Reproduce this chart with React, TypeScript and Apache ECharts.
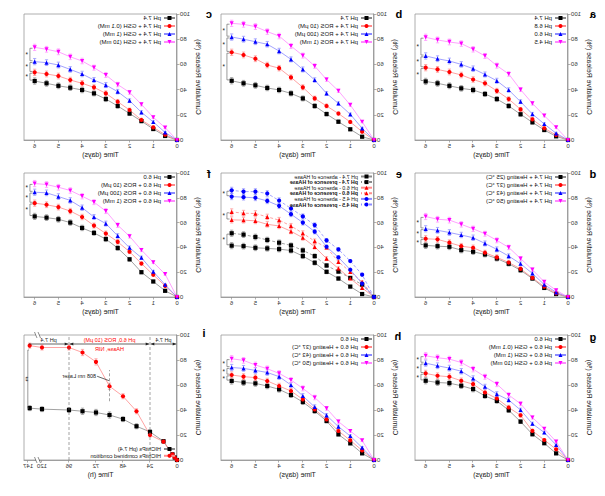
import React, { useEffect, useRef } from "react";
import * as echarts from "echarts";

// ---------- data ----------
const DAYS = [0, 0.5, 1, 1.5, 2, 2.5, 3, 3.5, 4, 4.5, 5, 5.5, 6];
const DAY_TICKS = [0, 1, 2, 3, 4, 5, 6];
const ERR = [0, 0.8, 1.0, 1.3, 1.5, 1.8, 2.0, 2.0, 2.2, 2.2, 2.3, 2.3, 2.5];

const A_LABELS = ["pH 7.4", "pH 6.8", "pH 6.0", "pH 4.5"];
const A_74 = [0, 2.9, 7.9, 14, 20.4, 27, 32.5, 36.5, 39.7, 41, 43, 45, 46.5];
const A_68 = [0, 4, 9.3, 16.4, 24.3, 32.5, 39, 45, 48, 51.6, 54, 56, 57.4];
const A_60 = [0, 5.3, 12.7, 20.6, 30.4, 39.7, 47, 52, 56.6, 60, 62.7, 64.5, 66.7];
const A_45 = [0, 10, 19.3, 29, 40, 52.4, 59, 66.7, 72, 76.5, 77.8, 79.4, 81.5];

const B_LABELS = ["pH 7.4", "pH 7.4 + ROS (10 μM)", "pH 7.4 + ROS (100 μM)", "pH 7.4 + ROS (1 mM)"];
const B_74 = [0, 2.6, 8.5, 14.5, 20.6, 27, 33, 37, 39.7, 41.3, 43.4, 45, 47];
const B_10U = [0, 6.6, 14.3, 21, 27, 33, 41.8, 49.7, 57, 59.5, 64.5, 67.5, 69.6];
const B_100U = [0, 9.3, 20.4, 29, 37, 47.6, 56, 64, 70.6, 76, 78, 80, 81.7];
const B_1M = [0, 14.5, 27.8, 39, 48, 58.7, 67, 74.6, 82.5, 86, 90, 91.8, 92.6];

const C_LABELS = ["pH 7.4", "pH 7.4 + GSH (0.1 mM)", "pH 7.4 + GSH (1 mM)", "pH 7.4 + GSH (10 mM)"];
const C_74 = [0, 3.2, 8.7, 15, 21, 27, 32.5, 37, 39.7, 41.5, 43, 45, 46.8];
const C_01 = [0, 4.2, 10, 15.9, 23.8, 30.4, 37, 41.8, 45, 47.6, 50.8, 52.4, 53.7];
const C_1 = [0, 6, 14.3, 22, 31.2, 38.4, 43.6, 47.6, 52.4, 56, 59.5, 61.4, 62.2];
const C_10 = [0, 9.8, 18, 28.3, 37.8, 44, 51.6, 57.4, 62.7, 66, 70, 72, 73.5];

const D_LABELS = ["pH 7.4 + Heating (25 °C)", "pH 7.4 + Heating (37 °C)", "pH 7.4 + Heating (43 °C)", "pH 7.4 + Heating (50 °C)"];
const D_25 = [0, 2.4, 7.3, 14.9, 21.6, 26.8, 31, 34.3, 36.5, 37.8, 40.5, 41, 41.6];
const D_37 = [0, 3, 8.4, 15.4, 22.7, 27.8, 32, 35.7, 39.7, 41, 43.8, 46.5, 47];
const D_43 = [0, 3.8, 10, 19, 26.8, 33, 38.4, 43.2, 47.8, 50, 52, 53.8, 55];
const D_50 = [0, 5.4, 12.2, 22, 31, 40, 45.7, 51, 55, 58.6, 62, 62.7, 64.9];

const E_LABELS = [
  "pH 7.4 - absence of HAase",
  "pH 7.4 - presence of HAase",
  "pH 6.0 - absence of HAase",
  "pH 6.0 - presence of HAase",
  "pH 4.5 - absence of HAase",
  "pH 4.5 - presence of HAase",
];
const E_74A = [0, 2.4, 8.4, 14.9, 20.3, 27.6, 33, 37.5, 38.6, 39.2, 39.7, 41, 41.4];
const E_74P = [0, 10, 15.4, 20.5, 25.4, 33, 37.6, 41.6, 43.8, 46, 48.4, 50.3, 51.4];
const E_60A = [0, 7.3, 14.9, 23, 31, 40.5, 47.8, 53, 57.3, 58.6, 61.4, 62, 62.2];
const E_60P = [0, 12.2, 20.3, 28.4, 40, 45, 51.4, 57.3, 62, 64.6, 67.3, 67.6, 68.6];
const E_45A = [0, 10.8, 22, 32, 40.5, 52.7, 60, 66.8, 73.5, 77.5, 80, 80.5, 81];
const E_45P = [0, 18, 29, 38.4, 45.7, 58, 65, 71.4, 77.8, 83.5, 85, 85, 86];

const F_LABELS = ["pH 6.0", "pH 6.0 + ROS (10 μM)", "pH 6.0 + ROS (100 μM)", "pH 6.0 + ROS (1 mM)"];
const F_60 = [0, 5, 12.5, 20, 30.4, 39.5, 46.7, 51.7, 55.7, 60, 62.7, 64, 65];
const F_10U = [0, 9, 17.9, 27, 36.5, 44.5, 51.2, 57.6, 64.5, 69.3, 72.5, 74.4, 75.7];
const F_100U = [0, 9.9, 20.5, 31.7, 39.7, 49.3, 59.2, 64.5, 72, 77.9, 81, 84, 84.5];
const F_1M = [0, 18.4, 28, 37.9, 49, 57.9, 69.3, 76.5, 81.3, 85.9, 88.5, 90.7, 91.5];

const G_LABELS = ["pH 6.0", "pH 6.0 + GSH (0.1 mM)", "pH 6.0 + GSH (1 mM)", "pH 6.0 + GSH (10 mM)"];
const G_60 = [0, 5.3, 13.4, 20.6, 30.7, 39.8, 47.3, 51.3, 56.7, 59.4, 61.5, 62, 63.4];
const G_01 = [0, 8.6, 16, 23.3, 35.8, 42, 49.2, 54, 60.7, 63.4, 66.6, 67.4, 69.3];
const G_1 = [0, 12, 22, 29, 40, 48, 52.7, 58.6, 65.2, 71, 73.5, 75.4, 77.5];
const G_10 = [0, 14.7, 25, 34, 45, 52, 60.7, 66.6, 72.7, 78, 80.7, 81.8, 83.4];

const H_LABELS = ["pH 6.0", "pH 6.0 + Heating (37 °C)", "pH 6.0 + Heating (43 °C)", "pH 6.0 + Heating (50 °C)"];
const H_60 = [0, 5.3, 13.3, 20.5, 31.2, 39.2, 46.4, 52, 56.5, 59.2, 61.3, 62, 63.2];
const H_37 = [0, 7.7, 15.7, 23.2, 32.5, 40.5, 48.5, 55.2, 59.2, 63.2, 65.9, 66.7, 68];
const H_43 = [0, 9.9, 19.2, 26.7, 35.7, 42.4, 51.2, 60, 66.7, 70, 71.7, 73.3, 74];
const H_50 = [0, 15.7, 23.2, 30.7, 41.3, 50, 57.3, 64, 69.3, 73, 76, 79.7, 81];

const I_LABELS = ["HIChitPs (pH 7.4)", "HIChitPs combined condition"];
const I_HOURS = [0, 2, 4, 12, 24, 36, 48, 60, 72, 84, 96, 120, 144];
const I_HOUR_TICKS = [0, 24, 48, 72, 96, 120, 147];
const I_74 = [0, 2, 4.5, 15, 22.5, 27, 32.7, 36, 38, 39, 40, 40.7, 41.5];
const I_COMB = [0, 2, 4.5, 14.7, 20, 39, 51, 59, 78.5, 86, 90, 90, 91.5];
const I_ERR = [0, 0.8, 1, 1.2, 1.5, 2, 2, 2.5, 2.5, 2.5, 2, 2, 2];
const I_PHASES = [
  { from: 0, to: 24, label: "pH 7.4", sub: "" },
  { from: 24, to: 96, label: "pH 6.0, ROS (10 μM)", sub: "HAase, NIR" },
  { from: 96, to: 150, label: "pH 7.4", sub: "" },
];
const I_LASER_TEXT = "808 nm Laser";

// ---------- styles ----------
const FONT = "Liberation Sans, Arial, sans-serif";
const DOWN = "path://M0,0L10,0L5,9Z";
const S_BLACK = { color: "#000000", line: "#8a8a8a", symbol: "rect" };
const S_RED = { color: "#ff0000", line: "#ff8c8c", symbol: "circle" };
const S_BLUE = { color: "#0000ff", line: "#8c8cff", symbol: "triangle" };
const S_MAG = { color: "#ff00ff", line: "#ff8cff", symbol: DOWN };
const S4 = [S_BLACK, S_RED, S_BLUE, S_MAG];
const S_E = [
  { ...S_BLACK, dashed: false },
  { ...S_BLACK, dashed: true },
  { ...S_RED, symbol: "triangle", dashed: false },
  { ...S_RED, symbol: "triangle", dashed: true },
  { ...S_BLUE, symbol: "circle", dashed: false },
  { ...S_BLUE, symbol: "circle", dashed: true },
];

// break of panel i time axis between 120 h and 147 h
const brk = (t: number) => (t <= 120 ? t : 120 + ((t - 120) * 12.3) / 27);

const COL_LEFT = [37, 231, 428];
const ROW_TOP = [14, 173, 335];
const ROW_H = [126, 124, 125];
const PW = 153;

type Panel = {
  key: string;
  col: number;
  row: number;
  labels: string[];
  values: number[][];
  styles: any[];
  pairs: number[][];
  legendFont: number;
  legendGap: number;
};

const PANELS: Panel[] = [
  { key: "a", col: 0, row: 0, labels: A_LABELS, values: [A_74, A_68, A_60, A_45], styles: S4, pairs: [[0, 1], [1, 2], [2, 3]], legendFont: 6, legendGap: 2 },
  { key: "b", col: 1, row: 0, labels: B_LABELS, values: [B_74, B_10U, B_100U, B_1M], styles: S4, pairs: [[0, 1], [1, 2], [2, 3]], legendFont: 6, legendGap: 2 },
  { key: "c", col: 2, row: 0, labels: C_LABELS, values: [C_74, C_01, C_1, C_10], styles: S4, pairs: [[0, 1], [1, 2], [2, 3]], legendFont: 6, legendGap: 2 },
  { key: "d", col: 0, row: 1, labels: D_LABELS, values: [D_25, D_37, D_43, D_50], styles: S4, pairs: [[0, 1], [1, 2], [2, 3]], legendFont: 6, legendGap: 2 },
  { key: "e", col: 1, row: 1, labels: E_LABELS, values: [E_74A, E_74P, E_60A, E_60P, E_45A, E_45P], styles: S_E, pairs: [[0, 1], [2, 3], [4, 5]], legendFont: 5.3, legendGap: 0.6 },
  { key: "f", col: 2, row: 1, labels: F_LABELS, values: [F_60, F_10U, F_100U, F_1M], styles: S4, pairs: [[0, 1], [1, 2], [2, 3]], legendFont: 6, legendGap: 2 },
  { key: "g", col: 0, row: 2, labels: G_LABELS, values: [G_60, G_01, G_1, G_10], styles: S4, pairs: [[0, 1], [1, 2], [2, 3]], legendFont: 6, legendGap: 2 },
  { key: "h", col: 1, row: 2, labels: H_LABELS, values: [H_60, H_37, H_43, H_50], styles: S4, pairs: [[0, 1], [1, 2], [2, 3]], legendFont: 6, legendGap: 2 },
  { key: "i", col: 2, row: 2, labels: I_LABELS, values: [I_74, I_COMB], styles: [S_BLACK, S_RED], pairs: [[0, 1]], legendFont: 5.5, legendGap: 0.8 },
];

const LETTER_POS: Record<string, number[]> = {
  a: [12, 14], b: [206, 14], c: [396, 14],
  d: [12, 174], e: [206, 174], f: [396, 174],
  g: [12, 337], h: [207, 336], i: [401, 333],
};

// ---------- render helpers ----------
const lineEl = (p1: number[], p2: number[], style: any) => ({
  type: "line",
  shape: { x1: p1[0], y1: p1[1], x2: p2[0], y2: p2[1] },
  style,
});

const errBar = (color: string) => (params: any, api: any) => {
  const x = api.value(0);
  const y = api.value(1);
  const e = api.value(2);
  if (!e) return null;
  const p1 = api.coord([x, y + e]);
  const p2 = api.coord([x, y - e]);
  const w = 1.6;
  const st = { stroke: color, lineWidth: 0.7 };
  return {
    type: "group",
    children: [
      lineEl(p1, p2, st),
      lineEl([p1[0] - w, p1[1]], [p1[0] + w, p1[1]], st),
      lineEl([p2[0] - w, p2[1]], [p2[0] + w, p2[1]], st),
    ],
  };
};

const bracket = (xA: number, xB: number, xT: number, txt: string, vertical: boolean) => (params: any, api: any) => {
  const lo = api.value(1);
  const hi = api.value(2);
  const a1 = api.coord([xA, hi]);
  const b1 = api.coord([xB, hi]);
  const b2 = api.coord([xB, lo]);
  const a2 = api.coord([xA, lo]);
  const t = api.coord([xT, (lo + hi) / 2]);
  return {
    type: "group",
    children: [
      { type: "polyline", shape: { points: [a1, b1, b2, a2] }, style: { stroke: "#555", lineWidth: 0.6, fill: "none" } },
      {
        type: "text",
        x: t[0],
        y: t[1],
        rotation: vertical ? Math.PI / 2 : 0,
        style: { text: txt, fontSize: 6.5, fontFamily: FONT, fill: "#222", align: "center", verticalAlign: "middle" },
      },
    ],
  };
};

const annotI = (params: any, api: any) => {
  const c = (x: number, y: number) => api.coord([x, y]);
  const dash = { stroke: "#666", lineWidth: 0.6, lineDash: [3, 2] };
  const solid = { stroke: "#222", lineWidth: 0.7 };
  const ch: any[] = [];
  [24, 96].forEach((t) => ch.push(lineEl(c(t, 0), c(t, 100), dash)));
  // laser marker
  ch.push(lineEl(c(60, 47), c(60, 72), dash));
  ch.push(lineEl(c(60.5, 63.5), c(71, 67), solid));
  const lt = c(72, 67.5);
  ch.push({ type: "text", x: lt[0], y: lt[1], style: { text: I_LASER_TEXT, fontSize: 5.5, fontFamily: FONT, fill: "#222", align: "left", verticalAlign: "middle" } });
  // phase arrows
  const yA = 92.8;
  const right = c(136, 0)[0];
  I_PHASES.forEach((ph) => {
    const pa = c(ph.from, yA);
    const pb = c(brk(Math.min(ph.to, 147)), yA);
    const x1 = pa[0] + 0.8;
    const x2 = Math.min(pb[0], right) - 0.8;
    const y = pa[1];
    ch.push(lineEl([x1, y], [x2, y], solid));
    ch.push({ type: "polygon", shape: { points: [[x1, y], [x1 + 3.5, y - 1.6], [x1 + 3.5, y + 1.6]] }, style: { fill: "#222" } });
    if (ph.to < 147) {
      ch.push({ type: "polygon", shape: { points: [[x2, y], [x2 - 3.5, y - 1.6], [x2 - 3.5, y + 1.6]] }, style: { fill: "#222" } });
    }
    const red = ph.sub !== "";
    const mid = (x1 + x2) / 2;
    const ly = c(0, 96.3)[1];
    ch.push({ type: "text", x: mid, y: ly, style: { text: ph.label, fontSize: 5.5, fontFamily: FONT, fill: red ? "#ff0000" : "#222", align: "center", verticalAlign: "middle" } });
    if (red) {
      const sy = c(0, 88.8)[1];
      ch.push({ type: "text", x: mid, y: sy, style: { text: ph.sub, fontSize: 5.5, fontFamily: FONT, fill: "#ff0000", align: "center", verticalAlign: "middle" } });
    }
  });
  // axis break marks
  [0, 100].forEach((v) => {
    const p = c(124, v);
    ch.push({ type: "rect", shape: { x: p[0] - 1.5, y: p[1] - 1, width: 3, height: 2 }, style: { fill: "#fff" } });
    ch.push(lineEl([p[0] - 3, p[1] + 3], [p[0] - 0.5, p[1] - 3], { stroke: "#444", lineWidth: 0.6 }));
    ch.push(lineEl([p[0] + 0.5, p[1] + 3], [p[0] + 3, p[1] - 3], { stroke: "#444", lineWidth: 0.6 }));
  });
  return { type: "group", children: ch };
};

function buildOption() {
  const grid: any[] = [];
  const xAxis: any[] = [];
  const yAxis: any[] = [];
  const series: any[] = [];
  const legend: any[] = [];
  const graphic: any[] = [];
  const axisCommon = {
    axisLine: { show: true, lineStyle: { color: "#8f8f8f", width: 0.8 } },
    axisTick: { show: true, inside: false, length: 2.5, lineStyle: { color: "#8f8f8f", width: 0.7 } },
    splitLine: { show: false },
    nameTextStyle: { fontSize: 7, color: "#222", fontFamily: FONT },
  };

  PANELS.forEach((p, i) => {
    const left = COL_LEFT[p.col];
    const top = ROW_TOP[p.row];
    const h = ROW_H[p.row];
    const isI = p.key === "i";
    grid.push({ left, top, width: PW, height: h, show: true, borderColor: "#9a9a9a", borderWidth: 0.8, backgroundColor: "transparent" });
    const xTicks = isI ? I_HOUR_TICKS.map(brk) : DAY_TICKS;
    xAxis.push({
      ...axisCommon,
      type: "value",
      gridIndex: i,
      min: 0,
      max: isI ? 136 : 6.45,
      name: isI ? "Time (h)" : "Time (days)",
      nameLocation: "middle",
      nameGap: 11,
      axisTick: { ...axisCommon.axisTick, customValues: xTicks },
      axisLabel: {
        customValues: xTicks,
        fontSize: 6,
        color: "#333",
        margin: 3,
        fontFamily: FONT,
        formatter: (v: number) => (isI ? String(v > 121 ? 147 : Math.round(v)) : String(v)),
      },
    });
    yAxis.push({
      ...axisCommon,
      type: "value",
      gridIndex: i,
      min: 0,
      max: 100,
      interval: 20,
      name: "Cumulative Release (%)",
      nameLocation: "middle",
      nameGap: 18,
      axisLabel: { fontSize: 6, color: "#333", margin: 3, fontFamily: FONT },
    });

    const xs = isI ? I_HOURS.map(brk) : DAYS;
    const err = isI ? I_ERR : ERR;
    p.values.forEach((vals, k) => {
      const st = p.styles[k];
      series.push({
        type: "custom",
        xAxisIndex: i,
        yAxisIndex: i,
        silent: true,
        z: 2,
        data: vals.map((v, j) => [xs[j], v, err[j]]),
        renderItem: errBar(st.line),
      });
      series.push({
        type: "line",
        name: p.key + "|" + p.labels[k],
        xAxisIndex: i,
        yAxisIndex: i,
        z: 3,
        data: vals.map((v, j) => [xs[j], v]),
        symbol: st.symbol,
        symbolSize: 4.2,
        itemStyle: { color: st.color, borderWidth: 0 },
        lineStyle: { color: st.line, width: 0.8, type: st.dashed ? [3, 2] : "solid" },
      });
    });

    // significance brackets
    const last = (k: number) => p.values[k][p.values[k].length - 1];
    const bData = p.pairs.map(([u, v]) => {
      const lo = Math.min(last(u), last(v));
      const hi = Math.max(last(u), last(v));
      return [isI ? brk(144) : 6, lo + 0.7, hi - 0.7];
    });
    series.push({
      type: "custom",
      xAxisIndex: i,
      yAxisIndex: i,
      silent: true,
      z: 4,
      data: isI ? [[brk(144), 41.5, 88]] : bData,
      renderItem: isI ? bracket(131.5, 132.6, 134.3, "**", true) : bracket(6.09, 6.2, 6.33, "*", false),
    });
    if (isI) {
      series.push({ type: "custom", xAxisIndex: i, yAxisIndex: i, silent: true, z: 4, data: [[0, 0]], renderItem: annotI });
    }

    legend.push({
      orient: "vertical",
      left: left + 1,
      top: isI ? top + 111 : top + 1,
      padding: 0,
      itemWidth: 11,
      itemHeight: 5,
      itemGap: p.legendGap,
      selectedMode: false,
      textStyle: { fontSize: p.legendFont, color: "#111", fontFamily: FONT, padding: [0, 0, 0, -2] },
      formatter: (n: string) => n.slice(n.indexOf("|") + 1),
      data: p.labels.map((l, k) => ({
        name: p.key + "|" + l,
        textStyle: p.key === "e" && k % 2 === 1 ? { fontWeight: "bold" } : {},
      })),
    });

    const lp = LETTER_POS[p.key];
    graphic.push({
      type: "text",
      x: lp[0],
      y: lp[1],
      style: { text: p.key, fontSize: 11, fontWeight: "bold", fontFamily: FONT, fill: "#000", align: "center", verticalAlign: "middle" },
    });
  });

  return {
    animation: false,
    backgroundColor: "#ffffff",
    textStyle: { fontFamily: FONT },
    grid,
    xAxis,
    yAxis,
    series,
    legend,
    graphic,
  };
}

export default function App() {
  const ref = useRef<HTMLDivElement>(null);
  useEffect(() => {
    if (!ref.current) return;
    const chart = echarts.init(ref.current, undefined, { renderer: "svg" });
    chart.setOption(buildOption() as any);
    return () => chart.dispose();
  }, []);
  return (
    <div
      ref={ref}
      style={{
        position: "absolute",
        left: 0,
        top: 0,
        width: 605,
        height: 496,
        transform: "scaleX(-1)",
        background: "#fff",
      }}
    />
  );
}
